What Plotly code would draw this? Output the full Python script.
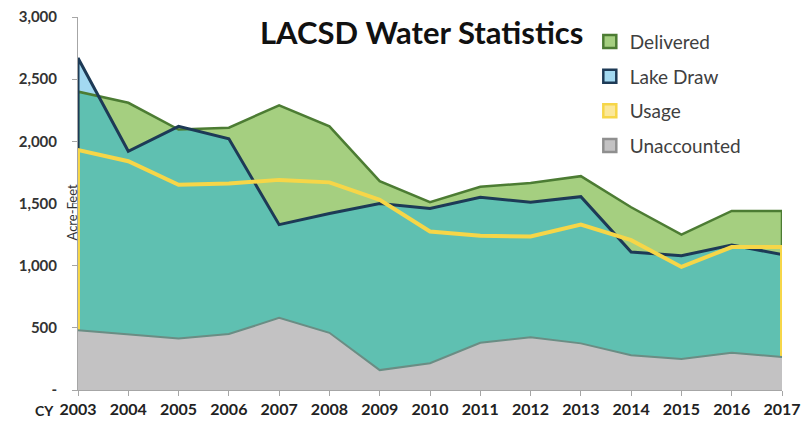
import plotly.graph_objects as go

years = list(range(2003, 2018))
delivered = [2400, 2310, 2095, 2110, 2290, 2120, 1680, 1510, 1635, 1665, 1720, 1470, 1250, 1440, 1440]
lake_draw = [2670, 1920, 2120, 2020, 1330, 1420, 1500, 1460, 1550, 1510, 1555, 1110, 1080, 1165, 1090]
usage = [1930, 1840, 1650, 1660, 1690, 1670, 1530, 1275, 1240, 1235, 1330, 1205, 990, 1150, 1150]
unaccounted = [480, 450, 415, 450, 580, 460, 160, 215, 380, 425, 375, 280, 250, 300, 265]
y_ticks = [0, 500, 1000, 1500, 2000, 2500, 3000]
y_tick_text = ["-", "500", "1,000", "1,500", "2,000", "2,500", "3,000"]

C_GREEN_FILL = "#a5cf80"
C_GREEN_LINE = "#4c7c33"
C_BLUE_FILL = "#a3d9f1"
C_BLUE_LINE = "#1d3a56"
C_TEAL = "#5fc0b1"
C_YELLOW = "#f6d648"
C_GRAY_FILL = "#c3c2c3"
C_GRAY_LINE = "#6a8d84"
FONT = "Lato"


def overlap_min(xs, a, b):
    X, Y = [], []
    for i in range(len(xs)):
        if i > 0:
            d0 = a[i - 1] - b[i - 1]
            d1 = a[i] - b[i]
            if d0 * d1 < 0:
                t = d0 / (d0 - d1)
                X.append(xs[i - 1] + t * (xs[i] - xs[i - 1]))
                Y.append(a[i - 1] + t * (a[i] - a[i - 1]))
        X.append(xs[i])
        Y.append(min(a[i], b[i]))
    return X, Y


def closed(xs, ys):
    return [xs[0]] + list(xs) + [xs[-1]], [0] + list(ys) + [0]


fig = go.Figure()

fig.add_trace(go.Scatter(x=years, y=delivered, fill="tozeroy", fillcolor=C_GREEN_FILL,
                         mode="none", showlegend=False, hoverinfo="skip"))
fig.add_trace(go.Scatter(x=years, y=lake_draw, fill="tozeroy", fillcolor=C_BLUE_FILL,
                         mode="none", showlegend=False, hoverinfo="skip"))
ox, oy = overlap_min(years, delivered, lake_draw)
fig.add_trace(go.Scatter(x=ox, y=oy, fill="tozeroy", fillcolor=C_TEAL,
                         mode="none", showlegend=False, hoverinfo="skip"))

dx, dy = closed(years, delivered)
fig.add_trace(go.Scatter(x=dx, y=dy, mode="lines", line=dict(color=C_GREEN_LINE, width=2.5),
                         showlegend=False))
lx, ly = closed(years, lake_draw)
fig.add_trace(go.Scatter(x=lx, y=ly, mode="lines", line=dict(color=C_BLUE_LINE, width=3),
                         showlegend=False))
ux, uy = closed(years, usage)
fig.add_trace(go.Scatter(x=ux, y=uy, mode="lines", line=dict(color=C_YELLOW, width=4),
                         showlegend=False))
fig.add_trace(go.Scatter(x=years, y=unaccounted, fill="tozeroy", fillcolor=C_GRAY_FILL,
                         mode="lines", line=dict(color=C_GRAY_LINE, width=2), showlegend=False))

legend_items = [
    ("Delivered", C_GREEN_FILL, C_GREEN_LINE),
    ("Lake Draw", C_BLUE_FILL, C_BLUE_LINE),
    ("Usage", "#fbe89a", C_YELLOW),
    ("Unaccounted", C_GRAY_FILL, "#8f8f8f"),
]
for i, (name, fc, lc) in enumerate(legend_items):
    fig.add_trace(go.Scatter(x=[None], y=[None], mode="markers", name=name,
                             legendgroup=f"g{i}",
                             marker=dict(symbol="square", size=13, color=fc,
                                         line=dict(color=lc, width=2.5))))

fig.update_layout(
    width=802, height=424,
    margin=dict(l=78, r=20, t=17, b=34, autoexpand=False),
    paper_bgcolor="white", plot_bgcolor="white",
    font=dict(family=FONT, color="#222222"),
    showlegend=True,
    legend=dict(x=0.727, y=0.985, xanchor="left", yanchor="top",
                font=dict(family=FONT, size=19, color="#404040"),
                tracegroupgap=7, bgcolor="rgba(0,0,0,0)", itemwidth=30),
    annotations=[
        dict(text="<b>LACSD Water Statistics</b>", xref="paper", x=0.488, y=0.96, yref="paper",
             showarrow=False, font=dict(family=FONT, size=31, color="#111111"),
             xanchor="center", yanchor="middle"),
        dict(text="Acre-Feet", xref="paper", x=-0.009, yref="paper", y=0.475,
             textangle=-90, showarrow=False, font=dict(family=FONT, size=13, color="#333333"),
             xanchor="center", yanchor="middle"),
        dict(text="<b>CY</b>", xref="paper", x=-0.047, yref="paper", y=-0.054,
             showarrow=False, font=dict(family=FONT, size=14, color="#222222"),
             xanchor="center", yanchor="middle"),
    ],
)

fig.update_xaxes(range=[2003, 2017], tickmode="array", tickvals=years,
                 ticktext=[str(y) for y in years], showgrid=False, zeroline=False,
                 showline=True, linecolor="#a6a6a6", linewidth=1, automargin=False,
                 ticks="outside", ticklen=5, tickcolor="#a6a6a6", ticklabeloverflow="allow",
                 tickfont=dict(family=FONT, size=16, color="#222222", weight="bold"))
fig.update_yaxes(range=[0, 3000], tickmode="array", tickvals=y_ticks, ticktext=y_tick_text,
                 showgrid=False, zeroline=False, showline=True, linecolor="#a6a6a6",
                 linewidth=1, ticks="outside", ticklen=5, tickcolor="#a6a6a6",
                 ticklabelstandoff=12, automargin=False, ticklabeloverflow="allow",
                 tickfont=dict(family=FONT, size=15, color="#333333", weight="bold"))

fig.write_html("out.html", config={"displayModeBar": False},
               post_script="document.body.style.margin='0';document.body.style.padding='0';")
